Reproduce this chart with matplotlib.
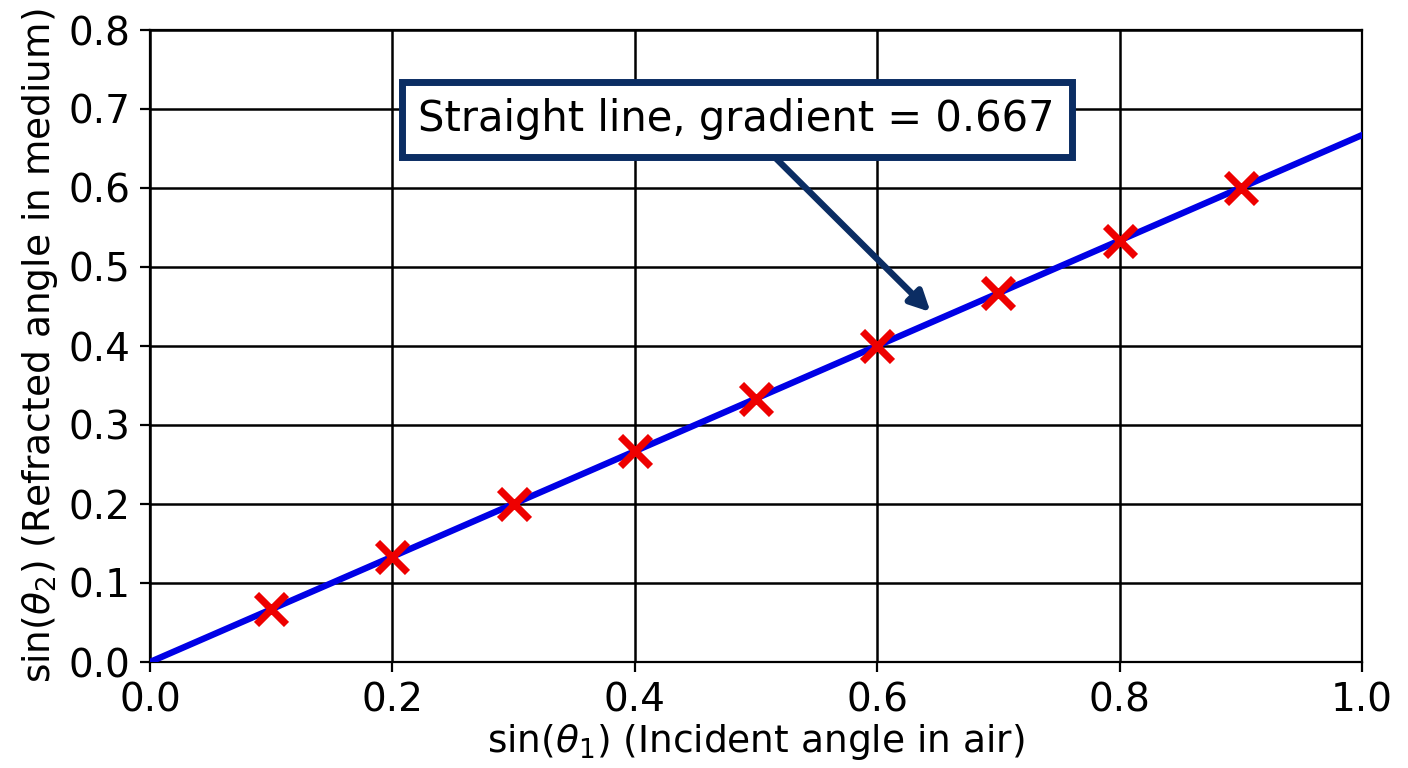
import numpy as np
import matplotlib.pyplot as plt

# measured values (sin of angles)
sin_theta1 = [0.1, 0.2, 0.3, 0.4, 0.5, 0.6, 0.7, 0.8, 0.9]
sin_theta2 = [0.067, 0.133, 0.200, 0.267, 0.333, 0.400, 0.467, 0.533, 0.600]
gradient = 0.667
fit_x = [0.0, 1.0]

navy = '#0b2d63'

fig = plt.figure(figsize=(7.04, 3.84), dpi=200)
ax = fig.add_axes([150/1408, 1 - 662/768, 1212/1408, 632/768])

ax.plot(fit_x, [gradient * v for v in fit_x], color='#0000e6', lw=2.3, zorder=3)
ax.plot(sin_theta1, sin_theta2, 'x', color='#ee0000', ms=11, mew=2.6, zorder=4)

ax.set_xlim(0, 1)
ax.set_ylim(0, 0.8)
ax.set_xticks(np.arange(0, 1.01, 0.2))
ax.set_yticks(np.arange(0, 0.81, 0.1))
ax.grid(True, color='black', lw=0.9)
ax.tick_params(labelsize=14)
ax.set_xlabel(r'sin($\theta_1$) (Incident angle in air)', fontsize=13.5, labelpad=1)
ax.set_ylabel(r'sin($\theta_2$) (Refracted angle in medium)', fontsize=13.5, labelpad=3)

ax.annotate('Straight line, gradient = 0.667', xy=(0.644, 0.443), xytext=(0.484, 0.687),
            fontsize=15, ha='center', va='center',
            bbox=dict(boxstyle='square,pad=0.4', fc='white', ec=navy, lw=2.5),
            arrowprops=dict(arrowstyle='-|>', color=navy, lw=2.3, mutation_scale=15,
                            shrinkA=0, shrinkB=0),
            zorder=5)

fig.savefig('out.png', dpi=200)
